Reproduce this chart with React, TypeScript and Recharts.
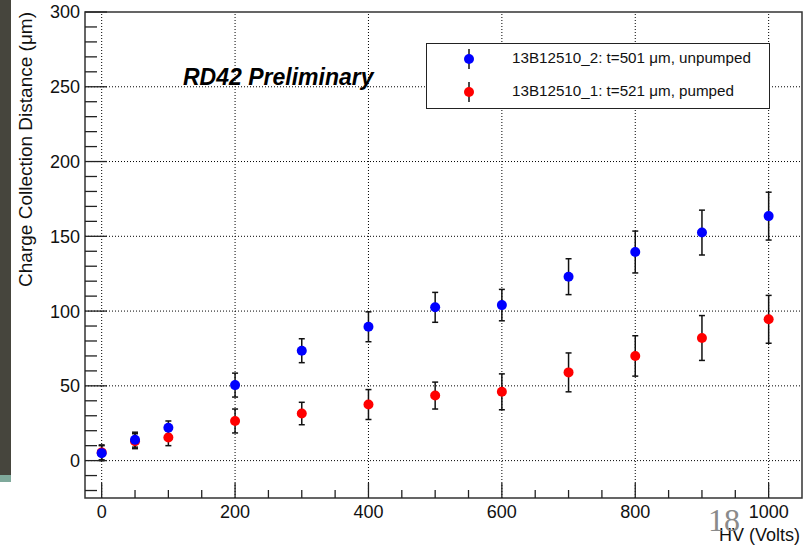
import React from "react";
import { ScatterChart, Scatter, XAxis, YAxis, ErrorBar, ReferenceLine, ReferenceArea, Label } from "recharts";

// HV scan, charge collection distance in µm
const hv = [0, 50, 100, 200, 300, 400, 500, 600, 700, 800, 900, 1000];
const unpumped = [5, 14, 22, 50.5, 73.5, 89.5, 102.5, 104, 123, 139.5, 152.5, 163.5];
const unpumpedErr = [5, 5, 4.5, 8, 8, 10, 10, 10.5, 12, 14, 15, 16];
const pumped = [5.5, 13, 15.5, 26.5, 31.5, 37.5, 43.5, 46, 59, 70, 82, 94.5];
const pumpedErr = [5, 5, 5.5, 8, 7.5, 10, 9, 12, 13, 13.5, 15, 16];

const xTicks = [0, 50, 100, 150, 200, 250, 300, 350, 400, 450, 500, 550, 600, 650, 700, 750, 800, 850, 900, 950, 1000];
const xLabels = [0, 200, 400, 600, 800, 1000];
const yLabels = [0, 50, 100, 150, 200, 250, 300];
const yTicks = [-20, -10, 0, 10, 20, 30, 40, 50, 60, 70, 80, 90, 100, 110, 120, 130, 140, 150, 160, 170, 180, 190, 200, 210, 220, 230, 240, 250, 260, 270, 280, 290, 300];
const xGrid = [0, 200, 400, 600, 800, 1000];
const yGrid = [0, 50, 100, 150, 200, 250];

const FONT = "'Liberation Sans', Arial, Helvetica, sans-serif";

const unpumpedData = hv.map((x, i) => ({ x, y: unpumped[i], err: unpumpedErr[i] }));
const pumpedData = hv.map((x, i) => ({ x, y: pumped[i], err: pumpedErr[i] }));

const XTick = (props: any) => {
  const { x, y, payload } = props;
  const major = xLabels.includes(payload.value);
  return (
    <g>
      <line x1={x} x2={x} y1={y} y2={y - (major ? 15 : 8)} stroke="#222" strokeWidth={1.3} />
      {major && (
        <text x={x} y={y + 20} textAnchor="middle" fontSize={18} fill="#111" fontFamily={FONT}>
          {payload.value}
        </text>
      )}
    </g>
  );
};

const YTick = (props: any) => {
  const { x, y, payload } = props;
  const major = yLabels.includes(payload.value);
  return (
    <g>
      <line x1={x} x2={x + (major ? 22 : 12)} y1={y} y2={y} stroke="#222" strokeWidth={1.3} />
      {major && (
        <text x={x - 5} y={y} dy="0.36em" textAnchor="end" fontSize={18} fill="#111" fontFamily={FONT}>
          {payload.value}
        </text>
      )}
    </g>
  );
};

const dot = (color: string) => (p: any) => <circle cx={p.cx} cy={p.cy} r={5} fill={color} />;

const legendRows = [
  { color: "#0000ff", text: "13B12510_2: t=501 μm, unpumped" },
  { color: "#ff0000", text: "13B12510_1: t=521 μm, pumped" },
];

export default function App() {
  return (
    <div style={{ position: "absolute", left: 0, top: 0, width: 811, height: 545, background: "#fff", overflow: "hidden" }}>
      <div style={{ position: "absolute", left: 0, top: 0, width: 11, height: 475, background: "#46453d" }} />
      <div style={{ position: "absolute", left: 0, top: 475, width: 11, height: 7, background: "#7fa99b" }} />
      <ScatterChart width={811} height={545} margin={{ top: 12, right: 9, bottom: 17, left: 25 }}>
        <XAxis
          type="number"
          dataKey="x"
          domain={[-25, 1050]}
          ticks={xTicks}
          interval={0}
          allowDataOverflow
          axisLine={false}
          tickLine={false}
          tickSize={0}
          tickMargin={0}
          height={30}
          tick={<XTick />}
        >
          <Label
            content={() => (
              <text x={800} y={541} textAnchor="end" fontSize={18} fill="#111" fontFamily={FONT}>
                HV (Volts)
              </text>
            )}
          />
        </XAxis>
        <YAxis
          type="number"
          dataKey="y"
          domain={[-25, 300]}
          ticks={yTicks}
          interval={0}
          allowDataOverflow
          axisLine={false}
          tickLine={false}
          tickSize={0}
          tickMargin={0}
          width={60}
          tick={<YTick />}
        >
          <Label
            content={() => (
              <text
                x={32}
                y={12}
                transform="rotate(-90, 32, 12)"
                textAnchor="end"
                fontSize={19}
                fill="#111"
                fontFamily={FONT}
              >
                {"Charge Collection Distance (μm)"}
              </text>
            )}
          />
        </YAxis>
        {xGrid.map((v) => (
          <ReferenceLine key={"gx" + v} x={v} stroke="#000" strokeDasharray="1 2" strokeWidth={1} />
        ))}
        {yGrid.map((v) => (
          <ReferenceLine key={"gy" + v} y={v} stroke="#000" strokeDasharray="1 2" strokeWidth={1} />
        ))}
        <ReferenceArea x1={-25} x2={1050} y1={-25} y2={300} fill="none" stroke="#333" strokeWidth={1.5} />
        <Scatter data={pumpedData} isAnimationActive={false} shape={dot("#ff0000")}>
          <ErrorBar dataKey="err" direction="y" width={3} stroke="#111" strokeWidth={1.5} />
        </Scatter>
        <Scatter data={unpumpedData} isAnimationActive={false} shape={dot("#0000ff")}>
          <ErrorBar dataKey="err" direction="y" width={3} stroke="#111" strokeWidth={1.5} />
        </Scatter>
      </ScatterChart>

      <div
        style={{
          position: "absolute",
          left: 183,
          top: 64,
          fontFamily: FONT,
          fontWeight: "bold",
          fontStyle: "italic",
          fontSize: 23,
          color: "#000",
          whiteSpace: "nowrap",
        }}
      >
        RD42 Preliminary
      </div>

      <div
        style={{
          position: "absolute",
          left: 426,
          top: 43,
          width: 342,
          height: 64,
          border: "1.5px solid #222",
          background: "#fff",
          fontFamily: FONT,
          fontSize: 15.2,
        }}
      >
        {legendRows.map((r, i) => (
          <div key={r.text} style={{ position: "absolute", left: 0, top: 1 + i * 33, height: 28, width: "100%" }}>
            <svg width={30} height={28} style={{ position: "absolute", left: 27, top: 0 }}>
              <line x1={15} x2={15} y1={4} y2={24} stroke="#111" strokeWidth={1.5} />
              <circle cx={15} cy={14} r={5} fill={r.color} />
            </svg>
            <div style={{ position: "absolute", left: 85, top: 4, whiteSpace: "nowrap", color: "#111" }}>{r.text}</div>
          </div>
        ))}
      </div>

      <div
        style={{
          position: "absolute",
          left: 708,
          top: 502,
          fontFamily: "'Liberation Serif', 'DejaVu Serif', serif",
          fontSize: 32,
          color: "#8a8a8a",
        }}
      >
        18
      </div>
    </div>
  );
}
